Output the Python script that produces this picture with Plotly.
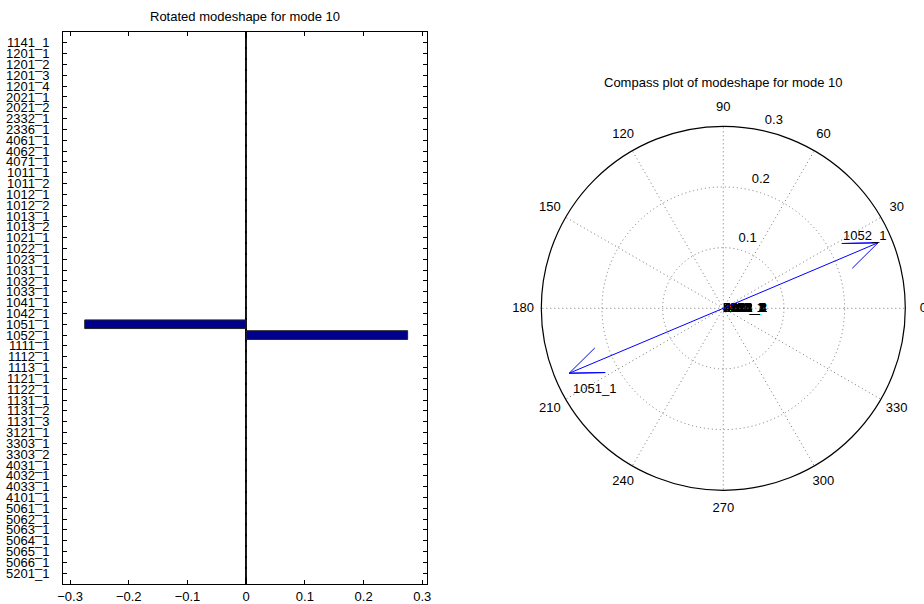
import numpy as np
import plotly.graph_objects as go

# ---------------- data ----------------
nodes = ["1141_1", "1201_1", "1201_2", "1201_3", "1201_4", "2021_1", "2021_2",
         "2332_1", "2336_1", "4061_1", "4062_1", "4071_1", "1011_1", "1011_2",
         "1012_1", "1012_2", "1013_1", "1013_2", "1021_1", "1022_1", "1023_1",
         "1031_1", "1032_1", "1033_1", "1041_1", "1042_1", "1051_1", "1052_1",
         "1111_1", "1112_1", "1113_1", "1121_1", "1122_1", "1131_1", "1131_2",
         "1131_3", "3121_1", "3303_1", "3303_2", "4031_1", "4032_1", "4033_1",
         "4101_1", "5061_1", "5062_1", "5063_1", "5064_1", "5065_1", "5066_1",
         "5201_1"]

# rotated (real) modeshape values, one per node
rotated_values = [0.0, 0.0, 0.0, 0.0, 0.0, 0.0, 0.0, 0.0, 0.0, 0.0,
                  0.0, 0.0, 0.0, 0.0, 0.0, 0.0, 0.0, 0.0, 0.0, 0.0,
                  0.0, 0.0, 0.0, 0.0, 0.0, 0.0, -0.275, 0.275, 0.0, 0.0,
                  0.0, 0.0, 0.0, 0.0, 0.0, 0.0, 0.0, 0.0, 0.0, 0.0,
                  0.0, 0.0, 0.0, 0.0, 0.0, 0.0, 0.0, 0.0, 0.0, 0.0]

# complex modeshape (real / imaginary parts) for the compass plot
mode_real = [0.0, 0.0, 0.0, 0.0, 0.0, 0.0, 0.0, 0.0, 0.0, 0.0,
             0.0, 0.0, 0.0, 0.0, 0.0, 0.0, 0.0, 0.0, 0.0, 0.0,
             0.0, 0.0, 0.0, 0.0, 0.0, 0.0, -0.254, 0.255, 0.0, 0.0,
             0.0, 0.0, 0.0, 0.0, 0.0, 0.0, 0.0, 0.0, 0.0, 0.0,
             0.0, 0.0, 0.0, 0.0, 0.0, 0.0, 0.0, 0.0, 0.0, 0.0]
mode_imag = [0.0, 0.0, 0.0, 0.0, 0.0, 0.0, 0.0, 0.0, 0.0, 0.0,
             0.0, 0.0, 0.0, 0.0, 0.0, 0.0, 0.0, 0.0, 0.0, 0.0,
             0.0, 0.0, 0.0, 0.0, 0.0, 0.0, -0.107, 0.108, 0.0, 0.0,
             0.0, 0.0, 0.0, 0.0, 0.0, 0.0, 0.0, 0.0, 0.0, 0.0,
             0.0, 0.0, 0.0, 0.0, 0.0, 0.0, 0.0, 0.0, 0.0, 0.0]

x_ticks = [-0.3, -0.2, -0.1, 0, 0.1, 0.2, 0.3]
radial_ticks = [0.1, 0.2, 0.3]
angle_ticks = [0, 30, 60, 90, 120, 150, 180, 210, 240, 270, 300, 330]

left_title = "Rotated modeshape for mode 10"
right_title = "Compass plot of modeshape for mode 10"

FONT = "Liberation Sans, Arial, Helvetica, sans-serif"
FS = 13
W, H = 924, 604


def px_x(px):
    return px / W


def px_y(py):
    return 1 - py / H


# compass geometry (pixels in the page)
CX, CY, R = 723.3, 308.3, 182.0
rmax = radial_ticks[-1]
S = R / rmax                      # pixels per data unit
LX0, LX1, LY = -0.36, 0.33, 0.36  # label overlay ranges

fig = go.Figure()

# ---------------- left: rotated modeshape bars ----------------
positions = list(range(1, len(nodes) + 1))
fig.add_trace(go.Bar(
    x=rotated_values, y=positions, orientation="h", width=0.8,
    marker=dict(color="#00008F", line=dict(color="#222222", width=1)),
    xaxis="x", yaxis="y", showlegend=False, hoverinfo="x+y",
))

# ---------------- right: compass ----------------
center_labels = []
tip_annots = []
for name, re, im in zip(nodes, mode_real, mode_imag):
    z = complex(re, im)
    if abs(z) == 0:
        center_labels.append(name)
        continue
    pts = [0j, z, 0.8 * z + 0.08j * z, z, 0.8 * z - 0.08j * z]
    rs = [abs(p) for p in pts]
    ths = [float(np.degrees(np.angle(p if abs(p) > 0 else z))) for p in pts]
    fig.add_trace(go.Scatterpolar(
        r=rs, theta=ths, mode="lines", line=dict(color="#0000FF", width=1),
        subplot="polar", showlegend=False, hoverinfo="skip",
    ))
    right = re >= 0
    tip_annots.append(dict(
        text=name, x=re, y=im, xref="x2", yref="y2", showarrow=False,
        xanchor="center", yanchor="middle",
        xshift=-14 if right else 25, yshift=7 if right else -15,
        font=dict(family=FONT, size=FS, color="black")))

txt_common = dict(xaxis="x2", yaxis="y2", mode="text", showlegend=False,
                  hoverinfo="skip", cliponaxis=False)

# labels of nodes with zero amplitude, stacked at the centre
fig.add_trace(go.Scatter(
    x=[0] * len(center_labels), y=[0] * len(center_labels), text=center_labels,
    textposition="middle right", textfont=dict(family=FONT, size=FS, color="black"),
    **txt_common))
# angle labels
ang = np.radians(angle_ticks)
fig.add_trace(go.Scatter(
    x=1.1 * rmax * np.cos(ang), y=1.1 * rmax * np.sin(ang),
    text=[str(a) for a in angle_ticks], textposition="middle center",
    textfont=dict(family=FONT, size=FS, color="black"), **txt_common))
# radial labels
rl = np.array(radial_ticks) + rmax / 18
fig.add_trace(go.Scatter(
    x=rl * np.cos(np.radians(77.5)), y=rl * np.sin(np.radians(77.5)),
    text=[f"{t:.1f}" for t in radial_ticks], textposition="middle right",
    textfont=dict(family=FONT, size=FS, color="black"), **txt_common))

GRID = "#777777"
fig.update_layout(
    width=W, height=H,
    margin=dict(l=0, r=0, t=0, b=0, autoexpand=False),
    paper_bgcolor="white", plot_bgcolor="white",
    font=dict(family=FONT, size=FS, color="black"),
    showlegend=False,
    xaxis=dict(
        domain=[px_x(63), px_x(427)], anchor="y", automargin=False,
        range=[-0.312, 0.308], tickvals=x_ticks,
        ticks="inside", ticklen=4, tickcolor="black",
        showline=True, linecolor="black", linewidth=1, mirror="ticks",
        showgrid=False, zeroline=True, zerolinecolor="black", zerolinewidth=2,
        tickfont=dict(family=FONT, size=FS, color="black"),
    ),
    yaxis=dict(
        domain=[px_y(584), px_y(32)], anchor="x", automargin=False,
        range=[len(nodes) + 1, 0], tickvals=positions, ticktext=nodes,
        ticks="inside", ticklen=4, tickcolor="black",
        showline=True, linecolor="black", linewidth=1, mirror="ticks",
        showgrid=False, zeroline=False, ticklabelstandoff=10,
        tickfont=dict(family=FONT, size=FS, color="black"),
    ),
    xaxis2=dict(domain=[px_x(CX + LX0 * S), px_x(CX + LX1 * S)], range=[LX0, LX1],
                anchor="y2", visible=False, fixedrange=True, automargin=False),
    yaxis2=dict(domain=[px_y(CY + LY * S), px_y(CY - LY * S)], range=[-LY, LY],
                anchor="x2", visible=False, fixedrange=True, automargin=False),
    polar=dict(
        domain=dict(x=[px_x(CX - R), px_x(CX + R)], y=[px_y(CY + R), px_y(CY - R)]),
        bgcolor="rgba(0,0,0,0)",
        radialaxis=dict(range=[0, rmax], tickvals=radial_ticks, showticklabels=False,
                        ticks="", showline=False, gridcolor=GRID, griddash="1px,3px",
                        gridwidth=1),
        angularaxis=dict(tickvals=angle_ticks, rotation=0, direction="counterclockwise",
                         showticklabels=False, ticks="", showline=True,
                         linecolor="black", linewidth=1.2, gridcolor=GRID,
                         griddash="1px,3px", gridwidth=1),
    ),
    annotations=[
        dict(text=left_title, x=px_x(245), y=px_y(17), xref="paper", yref="paper",
             showarrow=False, xanchor="center", yanchor="middle",
             font=dict(family=FONT, size=FS, color="black")),
        dict(text=right_title, x=px_x(723), y=px_y(83), xref="paper", yref="paper",
             showarrow=False, xanchor="center", yanchor="middle",
             font=dict(family=FONT, size=FS, color="black")),
    ] + tip_annots,
)

fig.write_html("out.html", config={"displayModeBar": False},
               post_script="document.body.style.margin='0px';")
